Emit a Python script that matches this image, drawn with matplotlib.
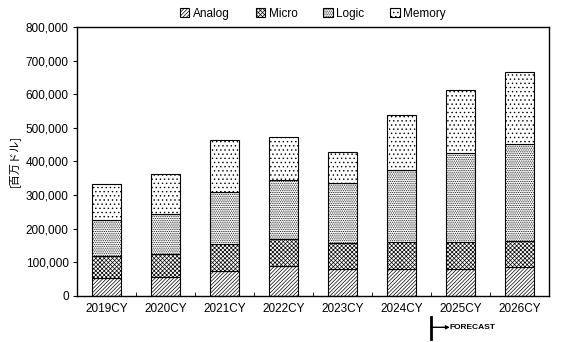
import numpy as np
import matplotlib.pyplot as plt
import matplotlib.transforms as mtransforms

plt.rcParams['font.family'] = ['Liberation Sans', 'DejaVu Sans']
plt.rcParams['hatch.linewidth'] = 0.5

# data (million USD)
years = ['2019CY', '2020CY', '2021CY', '2022CY', '2023CY', '2024CY', '2025CY', '2026CY']
analog = [53000, 56000, 73000, 88000, 79000, 79000, 79000, 85000]
micro = [66000, 68000, 81000, 81000, 78000, 80000, 80000, 79000]
logic = [107000, 119000, 154000, 175000, 178000, 215000, 267000, 287000]
memory = [107000, 119000, 156000, 130000, 92000, 164000, 186000, 216000]

series = [('Analog', analog, '/////////'),
          ('Micro', micro, 'xxxxxxxx'),
          ('Logic', logic, '.........'),
          ('Memory', memory, '....')]

fig = plt.figure(figsize=(5.67, 3.42), dpi=100)
ax = fig.add_axes([0.136, 0.135, 0.832, 0.786])

x = np.arange(len(years))
bottom = np.zeros(len(years))
for name, vals, hatch in series:
    ax.bar(x, vals, 0.5, bottom=bottom, color='white', edgecolor='black',
           hatch=hatch, linewidth=0.8, label=name)
    bottom += np.array(vals)

ax.set_xlim(-0.5, len(years) - 0.5)
ax.set_ylim(0, 800000)
ax.set_yticks(np.arange(0, 800001, 100000))
ax.set_yticklabels(['{:,}'.format(v) for v in range(0, 800001, 100000)], fontsize=8.5)
ax.set_xticks(x)
ax.set_xticklabels(years, fontsize=8.5)
ax.tick_params(axis='x', length=0, pad=5)
ax.set_xticks(np.arange(0.5, len(years) - 1, 1), minor=True)
ax.tick_params(axis='x', which='minor', direction='in', length=3)
ax.tick_params(axis='y', direction='out', length=3, pad=3)
for s in ax.spines.values():
    s.set_linewidth(1)
ax.set_ylabel('[百万ドル]', fontsize=8, family=['Noto Sans CJK JP', 'DejaVu Sans'], labelpad=4)

ax.legend(loc='lower center', bbox_to_anchor=(0.5, 1.0), ncol=4, frameon=False,
          fontsize=8.5, handlelength=0.8, handleheight=0.8, handletextpad=0.3,
          columnspacing=2.2, borderaxespad=0.2)

# forecast marker
trans = mtransforms.blended_transform_factory(ax.transData, fig.transFigure)
ax.plot([5.5, 5.5], [0.01, 0.073], transform=trans, color='black', lw=2, clip_on=False)
ax.annotate('', xy=(5.82, 0.043), xytext=(5.5, 0.043), xycoords=trans, textcoords=trans,
            arrowprops=dict(arrowstyle='-|>', color='black', lw=1, mutation_scale=5,
                            shrinkA=0, shrinkB=0))
ax.text(5.82, 0.043, 'FORECAST', transform=trans, fontsize=6, fontweight='bold',
        va='center', ha='left')

fig.savefig('out.png', dpi=100)
